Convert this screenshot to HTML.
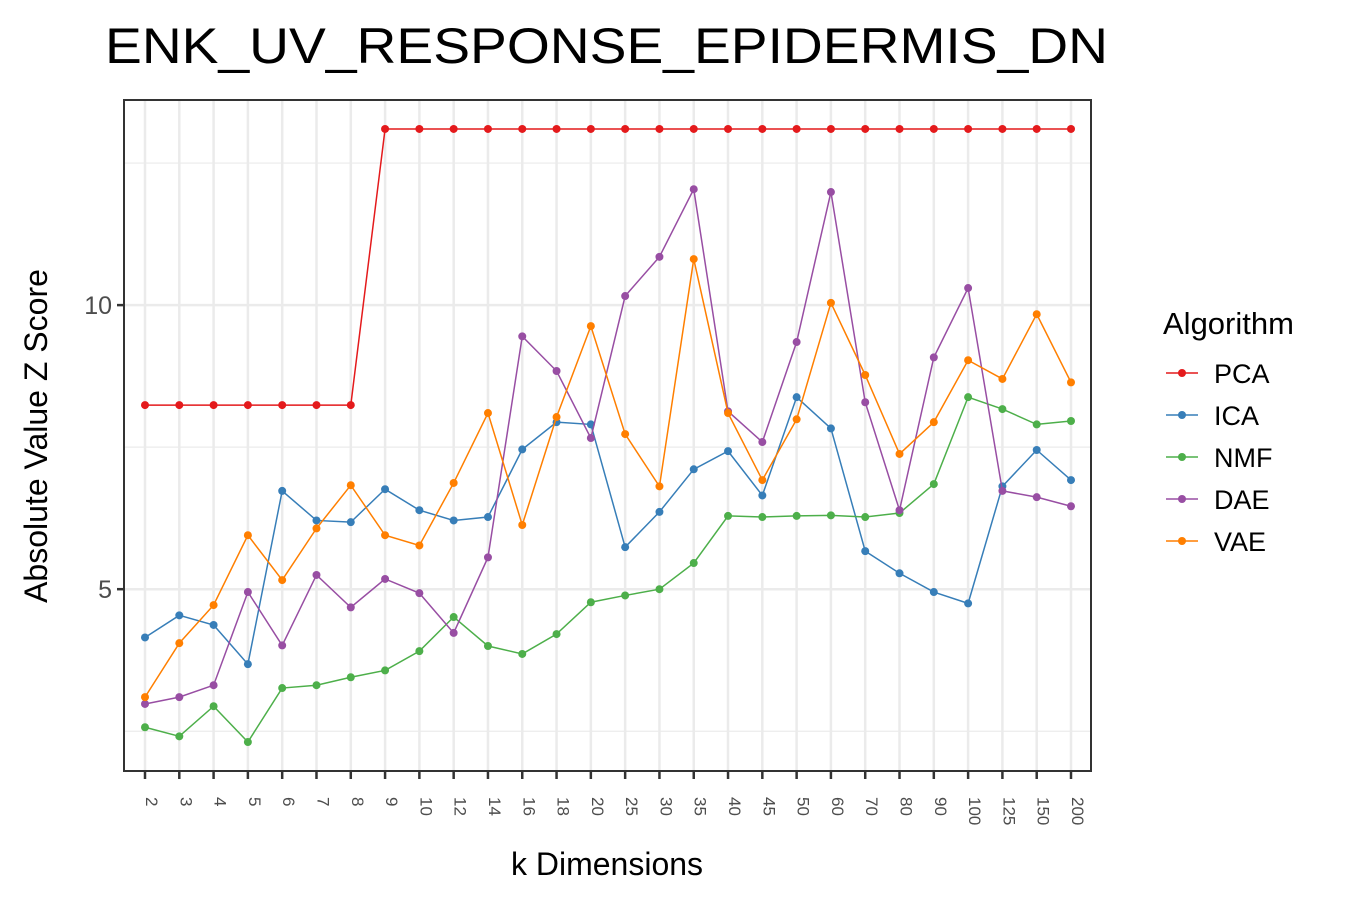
<!DOCTYPE html>
<html><head><meta charset="utf-8"><style>
body{margin:0;background:#fff;font-family:"Liberation Sans",sans-serif}
svg text{font-family:"Liberation Sans",sans-serif}
</style></head><body>
<svg id="chart" width="1350" height="900" viewBox="0 0 1350 900">
<text x="105" y="63" font-size="50" textLength="1003" lengthAdjust="spacingAndGlyphs" fill="#000">ENK_UV_RESPONSE_EPIDERMIS_DN</text>
<rect x="124" y="100" width="967" height="671" fill="#fff"/>
<g id="grid"></g><g id="series"></g>
<rect x="124" y="100" width="967" height="671" fill="none" stroke="#333" stroke-width="2"/>
<g id="axes"></g>
<text x="607" y="875" font-size="32" text-anchor="middle">k Dimensions</text>
<text transform="translate(47,436) rotate(-90)" font-size="32" text-anchor="middle">Absolute Value Z Score</text>
<g id="legend"></g>
</svg>
<script>
const categories=["2","3","4","5","6","7","8","9","10","12","14","16","18","20","25","30","35","40","45","50","60","70","80","90","100","125","150","200"];
const seriesNames=["PCA","ICA","NMF","DAE","VAE"];
const colors=["#e41a1c","#377eb8","#4daf4a","#984ea3","#ff7f00"];
const pca=[8.24,8.24,8.24,8.24,8.24,8.24,8.24,13.1,13.1,13.1,13.1,13.1,13.1,13.1,13.1,13.1,13.1,13.1,13.1,13.1,13.1,13.1,13.1,13.1,13.1,13.1,13.1,13.1];
const ica=[4.15,4.54,4.37,3.68,6.73,6.21,6.18,6.76,6.39,6.21,6.27,7.46,7.94,7.90,5.74,6.36,7.11,7.43,6.65,8.38,7.83,5.67,5.28,4.95,4.75,6.81,7.45,6.92];
const nmf=[2.57,2.41,2.94,2.31,3.26,3.31,3.45,3.57,3.91,4.51,4.00,3.86,4.21,4.77,4.89,5.00,5.46,6.29,6.27,6.29,6.30,6.27,6.34,6.85,8.38,8.17,7.90,7.96];
const dae=[2.98,3.10,3.31,4.95,4.01,5.25,4.68,5.18,4.93,4.23,5.56,9.45,8.84,7.66,10.16,10.85,12.04,8.13,7.59,9.35,11.99,8.29,6.39,9.08,10.30,6.73,6.62,6.46];
const vae=[3.10,4.05,4.72,5.95,5.16,6.07,6.83,5.95,5.77,6.87,8.10,6.13,8.03,9.63,7.73,6.81,10.81,8.10,6.92,7.99,10.04,8.77,7.38,7.94,9.03,8.70,9.84,8.64];
const yTicks=[5,10];
const yMinor=[2.5,7.5,12.5];
const NS="http://www.w3.org/2000/svg";
const X0=145,X1=1071,Y0=1.8,Y1=13.61,PT=100,PB=771;
function xs(i){return X0+(X1-X0)*i/(categories.length-1);}
function ys(v){return PB-(v-Y0)/(Y1-Y0)*(PB-PT);}
function mk(tag,attrs,parent){const e=document.createElementNS(NS,tag);for(const k in attrs)e.setAttribute(k,attrs[k]);parent.appendChild(e);return e;}
const grid=document.getElementById('grid'),ser=document.getElementById('series'),axes=document.getElementById('axes'),leg=document.getElementById('legend');
yMinor.forEach(v=>{const l=mk('line',{x1:124,x2:1091,y1:ys(v),y2:ys(v),stroke:'#ebebeb','stroke-width':1.2},grid);

});
yTicks.forEach(v=>{const l=mk('line',{x1:124,x2:1091,y1:ys(v),y2:ys(v),stroke:'#ebebeb','stroke-width':2.5},grid);


const t=mk('line',{x1:117,x2:124,y1:ys(v),y2:ys(v),stroke:'#333','stroke-width':2.5},axes);


const tx=mk('text',{x:112,y:ys(v)+9,'font-size':25,'text-anchor':'end',fill:'#4d4d4d'},axes);tx.textContent=v;

});
categories.forEach((c,i)=>{const x=xs(i);
const g=mk('line',{x1:x,x2:x,y1:PT,y2:PB,stroke:'#ebebeb','stroke-width':2.5},grid);


const t=mk('line',{x1:x,x2:x,y1:PB,y2:PB+8,stroke:'#333','stroke-width':2.5},axes);


const tx=mk('text',{transform:`translate(${x+1},797) rotate(90)`,'font-size':17,fill:'#4d4d4d'},axes);tx.textContent=c;

});
[pca,ica,nmf,dae,vae].forEach((vals,s)=>{
const pl=mk('polyline',{points:vals.map((v,i)=>xs(i)+','+ys(v)).join(' '),fill:'none',stroke:colors[s],'stroke-width':1.5},ser);


vals.forEach((v,i)=>{const p=mk('circle',{cx:xs(i),cy:ys(v),r:4,fill:colors[s]},ser);

});});
const lt=mk('text',{x:1163,y:334,'font-size':31},leg);lt.textContent='Algorithm';


seriesNames.forEach((n,s)=>{const y=373+42*s;
const g=mk('g',{},leg);


mk('line',{x1:1166,x2:1198,y1:y,y2:y,stroke:colors[s],'stroke-width':1.5},g);
mk('circle',{cx:1182,cy:y,r:4,fill:colors[s]},g);
const t=mk('text',{x:1214,y:y+10,'font-size':27},g);t.textContent=n;});
</script>
</body></html>
